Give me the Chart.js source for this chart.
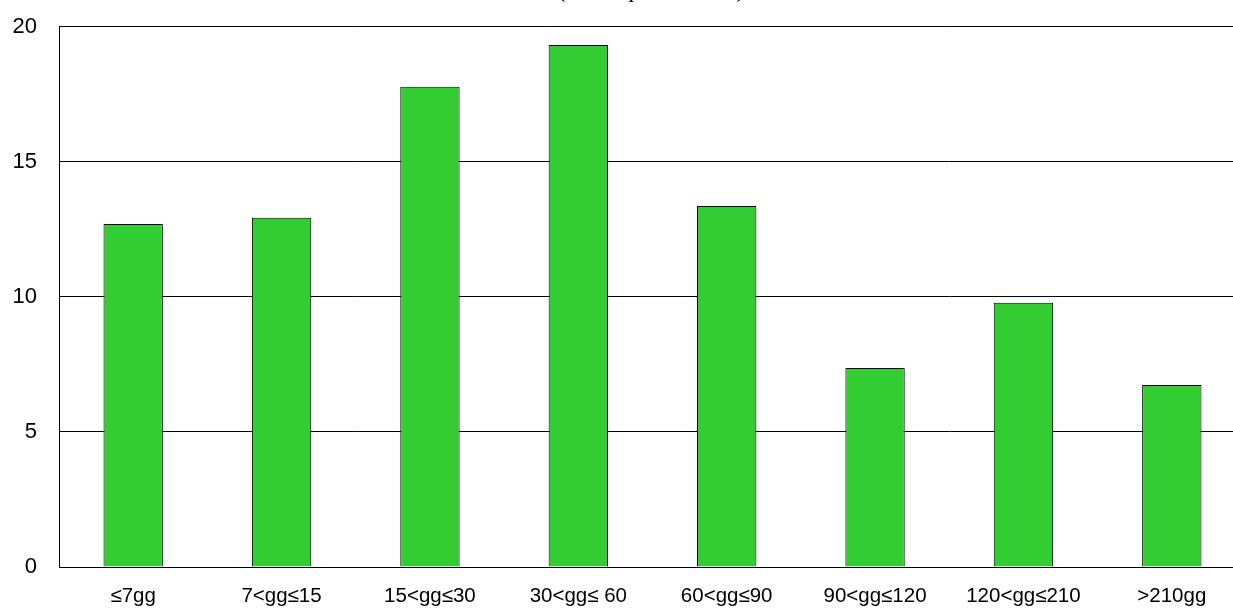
<!DOCTYPE html>
<html>
<head>
<meta charset="utf-8">
<script src="https://cdn.jsdelivr.net/npm/chart.js@4"></script>
<style>
  html, body { margin: 0; padding: 0; background: #fff; overflow: hidden; }
  body { width: 1233px; height: 608px; position: relative; }
  #wrap { position: absolute; left: 0; top: -24px; width: 1250px; height: 632px; }
</style>
</head>
<body>
<div id="wrap"><canvas id="chart"></canvas></div>
<script>
const categories = ['≤7gg', '7<gg≤15', '15<gg≤30', '30<gg≤ 60', '60<gg≤90', '90<gg≤120', '120<gg≤210', '>210gg'];
const values = [12.7, 12.93, 17.78, 19.33, 13.37, 7.37, 9.78, 6.74];
const titleText = '(valori percentuali)';

const colors = {
  bar: '#33cc33',
  barBorder: '#000000',
  grid: '#000000',
  text: '#000000',
};

new Chart(document.getElementById('chart'), {
  type: 'bar',
  data: {
    labels: categories,
    datasets: [{
      data: values,
      backgroundColor: colors.bar,
      borderColor: colors.barBorder,
      borderWidth: 1,
      barPercentage: 0.4,
      categoryPercentage: 1,
    }],
  },
  options: {
    responsive: true,
    maintainAspectRatio: false,
    animation: false,
    layout: { padding: { left: 0, right: 4, top: 0, bottom: 0 } },
    plugins: {
      legend: { display: false },
      tooltip: { enabled: false },
      title: {
        display: true,
        text: titleText,
        fullSize: false,
        color: colors.text,
        font: { family: '"Liberation Serif", "DejaVu Serif", serif', size: 24, style: 'italic', weight: 'normal' },
        padding: { top: 0, bottom: 22 },
      },
    },
    scales: {
      x: {
        grid: { display: false },
        border: { display: true, color: colors.grid, width: 1 },
        ticks: {
          color: colors.text,
          font: { family: '"Liberation Sans", Arial, sans-serif', size: 20.5 },
          padding: 9,
          maxRotation: 0,
          autoSkip: false,
        },
        afterFit: scale => { scale.height = 41; },
      },
      y: {
        min: 0,
        max: 20,
        grid: { color: colors.grid, lineWidth: 1, drawTicks: false },
        border: { display: true, color: colors.grid, width: 1 },
        ticks: {
          stepSize: 5,
          color: colors.text,
          font: { family: '"Liberation Sans", Arial, sans-serif', size: 22 },
          padding: 22,
        },
        afterFit: scale => { scale.width = 59; },
      },
    },
  },
});
</script>
</body>
</html>
